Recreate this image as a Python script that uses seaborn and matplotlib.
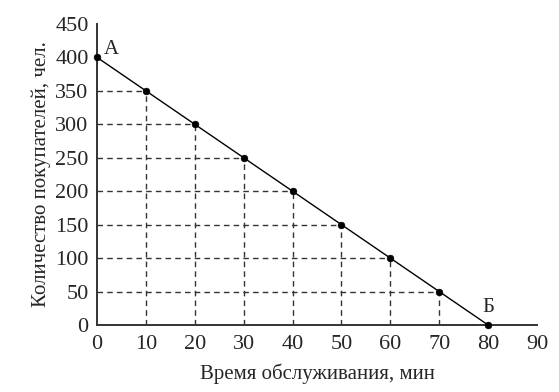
import matplotlib
matplotlib.use("Agg")
import matplotlib.pyplot as plt
import seaborn as sns
import pandas as pd

time_min = [0, 10, 20, 30, 40, 50, 60, 70, 80]
customers = [400, 350, 300, 250, 200, 150, 100, 50, 0]
x_ticks = [0, 10, 20, 30, 40, 50, 60, 70, 80, 90]
y_ticks = [0, 50, 100, 150, 200, 250, 300, 350, 400, 450]
point_labels = {"А": (0, 400), "Б": (80, 0)}

sns.set_style("white")
plt.rcParams['font.family'] = ['Liberation Serif', 'DejaVu Serif']

df = pd.DataFrame({"t": time_min, "n": customers})

fig = plt.figure(figsize=(5.59, 3.92), dpi=100)
ax = fig.add_axes([0.1735, 0.171, 0.787, 0.768])

# dashed guides
for t, n in zip(time_min, customers):
    if 0 < t < 80:
        ax.plot([0, t], [n, n], ls=(0, (4, 3)), color="#333333", lw=1.0, zorder=1)
        ax.plot([t, t], [0, n], ls=(0, (4, 3)), color="#333333", lw=1.0, zorder=1)

sns.lineplot(data=df, x="t", y="n", ax=ax, color="black", lw=1.0, zorder=2)
sns.scatterplot(data=df, x="t", y="n", ax=ax, color="black", s=24, edgecolor="black", zorder=3, clip_on=False)

ax.annotate("А", xy=point_labels["А"], xytext=(5, -1), textcoords="offset points",
            fontsize=15, ha="left", va="bottom")
ax.annotate("Б", xy=point_labels["Б"], xytext=(0, 6), textcoords="offset points",
            fontsize=15, ha="center", va="bottom")

ax.set_xlim(0, 90)
ax.set_ylim(0, 450)
ax.set_xticks(x_ticks)
ax.set_yticks(y_ticks)
ax.tick_params(axis="x", which="major", length=0, labelsize=16, pad=7)
ax.tick_params(axis="y", which="major", length=0, labelsize=16, pad=6)
ax.set_xticks([90], minor=True)
ax.set_yticks([450], minor=True)
ax.tick_params(axis="both", which="minor", direction="in", length=5, width=1.2, color="#333333")
for s in ["top", "right"]:
    ax.spines[s].set_visible(False)
for s in ["left", "bottom"]:
    ax.spines[s].set_color("#333333")
    ax.spines[s].set_linewidth(1.4)

ax.set_xlabel("Время обслуживания, мин", fontsize=15, labelpad=7)
ax.set_ylabel("Количество покупателей, чел.", fontsize=15, labelpad=3)

fig.savefig("out.png", dpi=100)
